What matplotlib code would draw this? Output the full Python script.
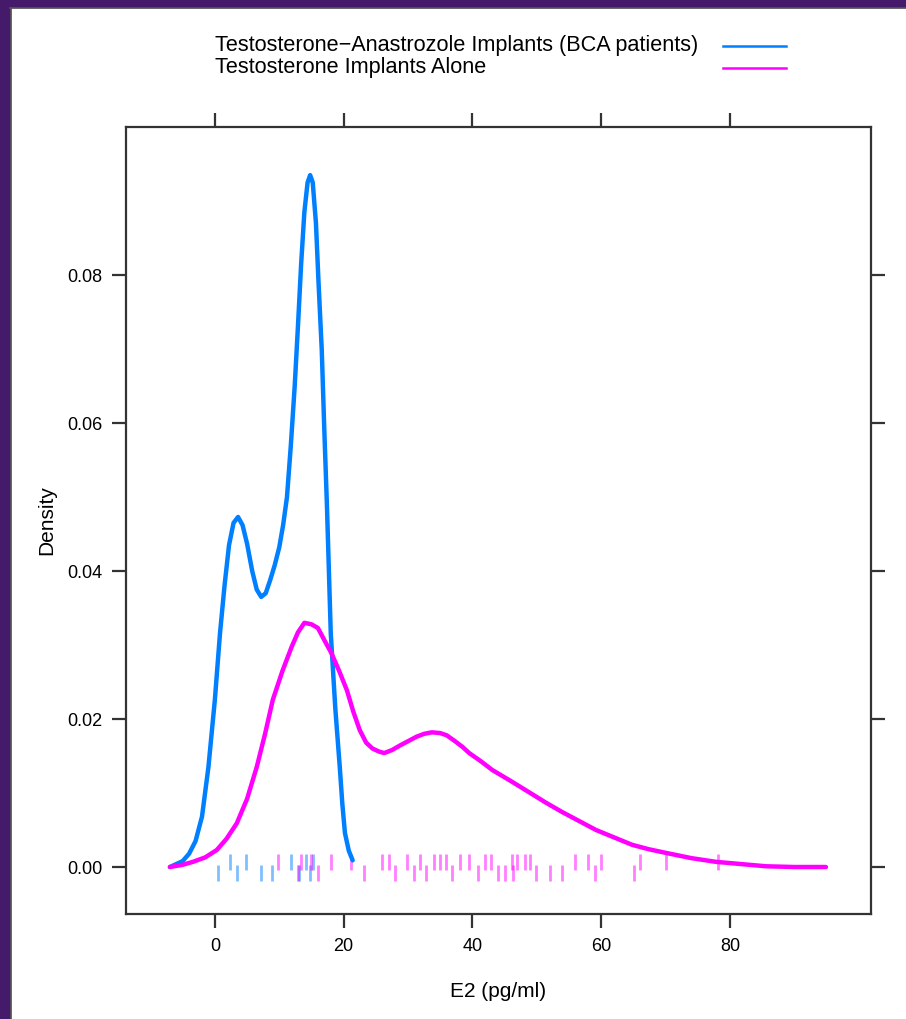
import matplotlib
matplotlib.use('Agg')
import matplotlib.pyplot as plt
from matplotlib.lines import Line2D
from matplotlib.patches import Rectangle

# density curves
bca_x = [-6.98, -5.0, -4.0, -3.0, -2.0, -1.0, 0.0, 0.8, 1.5, 2.2, 2.9, 3.6, 4.3, 5.0, 5.8,
         6.5, 7.2, 7.9, 8.6, 9.3, 10.0, 10.6, 11.2, 11.8, 12.4, 12.9, 13.4, 13.9, 14.4,
         14.8, 15.2, 15.7, 16.1, 16.6, 17.0, 17.4, 18.0, 18.7, 19.4, 19.8, 20.2, 20.8, 21.4]
bca_y = [0.0, 0.0008, 0.0018, 0.0035, 0.0068, 0.0135, 0.0226, 0.0316, 0.0380, 0.0435,
         0.0465, 0.0473, 0.0462, 0.0437, 0.0400, 0.0375, 0.0365, 0.0370, 0.0388, 0.0408,
         0.0432, 0.0462, 0.0500, 0.0570, 0.0650, 0.0730, 0.0815, 0.0885, 0.0925, 0.0935,
         0.0925, 0.0870, 0.0790, 0.0699, 0.0590, 0.0490, 0.0316, 0.0215, 0.0135, 0.0085,
         0.0046, 0.0022, 0.0009]

alone_x = [-6.98, -5.0, -3.4, -1.5, 0.3, 1.8, 3.4, 5.0, 6.5, 7.8, 9.0, 10.5, 11.9, 12.9,
           13.9, 15.0, 16.0, 17.1, 18.1, 19.3, 20.5, 21.5, 22.5, 23.5, 24.5, 25.5, 26.3,
           27.5, 28.7, 30.0, 31.3, 32.5, 33.7, 35.0, 36.0, 37.3, 38.5, 39.5, 41.3, 43.1,
           46.0, 48.8, 51.4, 54.0, 56.6, 59.2, 62.0, 64.8, 67.4, 70.1, 74.0, 77.8, 81.7,
           85.6, 90.0, 94.9]
alone_y = [0.0, 0.0003, 0.0007, 0.0013, 0.0023, 0.0038, 0.0059, 0.0092, 0.0135, 0.0180,
           0.0226, 0.0265, 0.0297, 0.0317, 0.0330, 0.0328, 0.0323, 0.0305, 0.0289, 0.0265,
           0.0239, 0.0210, 0.0185, 0.0168, 0.0160, 0.0156, 0.0154, 0.0158, 0.0164, 0.0170,
           0.0176, 0.0180, 0.0182, 0.0181, 0.0178, 0.0170, 0.0162, 0.0154, 0.0143, 0.0131,
           0.0116, 0.0101, 0.0087, 0.0074, 0.0062, 0.0050, 0.0040, 0.0030, 0.0024, 0.0019,
           0.0012, 0.0007, 0.0004, 0.0001, 0.0, 0.0]

# raw observations (rug), with the jitter row seen in the picture (0 = upper, 1 = lower)
bca_obs = [0.5, 2.4, 3.5, 4.9, 7.2, 8.9, 11.8, 13.0, 14.2, 14.8, 15.3]
bca_row = [1, 0, 1, 0, 1, 1, 0, 1, 0, 1, 0]
alone_obs = [9.8, 12.9, 13.4, 14.9, 16.0, 18.1, 21.2, 23.2, 26.0, 27.0, 27.9, 29.8, 31.0,
             31.9, 32.8, 34.0, 35.0, 35.9, 36.9, 38.0, 39.4, 40.9, 41.9, 42.9, 44.0, 45.1,
             46.2, 46.3, 46.9, 48.1, 49.0, 49.9, 52.1, 53.9, 56.0, 58.0, 59.0, 60.0, 65.1,
             66.0, 70.0, 78.1]
alone_row = [0, 1, 0, 0, 1, 0, 0, 1, 0, 0, 1, 0, 1,
             0, 1, 0, 0, 0, 1, 0, 0, 1, 0, 0, 1, 1,
             0, 1, 0, 0, 0, 1, 1, 1, 0, 0, 1, 0, 1,
             0, 0, 0]

series = ['Testosterone\u2212Anastrozole Implants (BCA patients)', 'Testosterone Implants Alone']
colors = ['#0080ff', '#ff00ff']
xticks = [0, 20, 40, 60, 80]
yticks = [0.00, 0.02, 0.04, 0.06, 0.08]

plt.rcParams['font.family'] = ['Liberation Sans', 'DejaVu Sans']

fig = plt.figure(figsize=(9.06, 10.19), dpi=100)
W, H = 906, 1019

# purple frame round the picture
purple = '#461a6b'
fig.patches.append(Rectangle((0, 1 - 7 / H), 1, 7 / H, transform=fig.transFigure,
                             color=purple, zorder=0))
fig.patches.append(Rectangle((0, 0), 10 / W, 1, transform=fig.transFigure,
                             color=purple, zorder=0))
fig.add_artist(Line2D([10 / W, 1], [1 - 8 / H, 1 - 8 / H], transform=fig.transFigure,
                      color='#555555', lw=1.2))
fig.add_artist(Line2D([11 / W, 11 / W], [0, 1 - 8 / H], transform=fig.transFigure,
                      color='#555555', lw=1.2))

ax = fig.add_axes([126 / W, 1 - 914 / H, (871 - 126) / W, (914 - 127) / H])

ax.plot(bca_x, bca_y, color=colors[0], lw=3.2, solid_joinstyle='round',
        solid_capstyle='round', zorder=3)
ax.plot(alone_x, alone_y, color=colors[1], lw=3.2, solid_joinstyle='round',
        solid_capstyle='round', zorder=3)

rowy = [0.00065, -0.00075]
ax.plot(bca_obs, [rowy[r] for r in bca_row], ls='none', marker='|', ms=12, mew=2,
        color=colors[0], alpha=0.5, zorder=2)
ax.plot(alone_obs, [rowy[r] for r in alone_row], ls='none', marker='|', ms=12, mew=2,
        color=colors[1], alpha=0.5, zorder=2)

ax.set_xlim(-13.8, 101.9)
ax.set_ylim(-0.00635, 0.1)
ax.set_xticks(xticks)
ax.set_xticklabels([str(v) for v in xticks])
ax.set_yticks(yticks)
ax.set_yticklabels(['%.2f' % v for v in yticks])
ax.tick_params(direction='out', length=10, width=1.6, color='#333333', labelsize=13,
               top=True, right=True, pad=7)
for s in ax.spines.values():
    s.set_linewidth(1.6)
    s.set_color('#333333')
ax.set_xlabel('E2 (pg/ml)', fontsize=15, labelpad=20)
ax.set_ylabel('Density', fontsize=15, labelpad=8)

# key above the panel
for i, (lab, c) in enumerate(zip(series, colors)):
    yy = 1 - (46 + 22 * i) / H
    fig.text(215 / W, yy, lab, fontsize=15.6, ha='left', va='center')
    fig.add_artist(Line2D([723 / W, 786 / W], [yy, yy], transform=fig.transFigure,
                          color=c, lw=1.8))

fig.savefig('out.png', dpi=100)
